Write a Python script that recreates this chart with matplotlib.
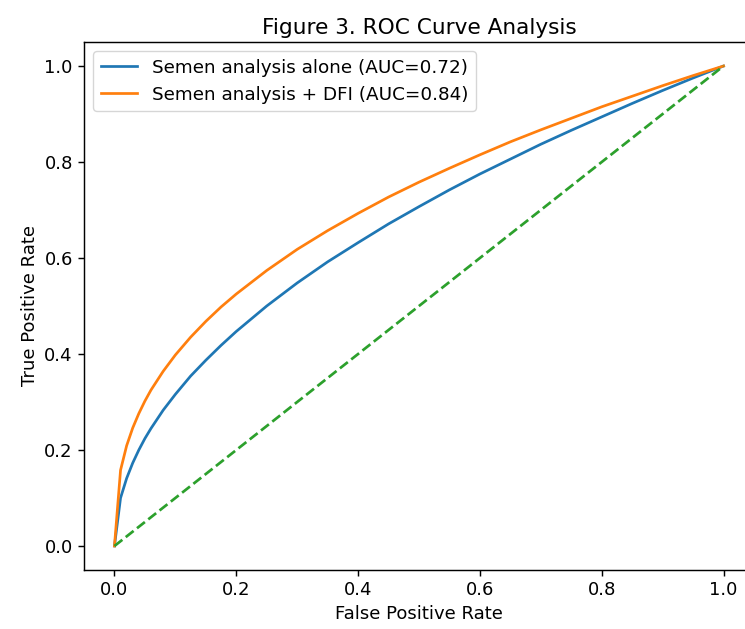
import matplotlib
matplotlib.use("Agg")
import matplotlib.pyplot as plt

# values
fpr = [0.0, 0.01, 0.02, 0.03, 0.04, 0.05, 0.06, 0.08, 0.1, 0.125, 0.15,
       0.175, 0.2, 0.25, 0.3, 0.35, 0.4, 0.45, 0.5, 0.55, 0.6, 0.65, 0.7,
       0.75, 0.8, 0.85, 0.9, 0.95, 1.0]
tpr_alone = [0.0, 0.100, 0.141, 0.173, 0.200, 0.224, 0.245, 0.283, 0.316,
             0.354, 0.387, 0.418, 0.447, 0.500, 0.548, 0.592, 0.632, 0.671,
             0.707, 0.742, 0.775, 0.806, 0.837, 0.866, 0.894, 0.922, 0.949,
             0.975, 1.0]
tpr_dfi = [0.0, 0.158, 0.209, 0.246, 0.276, 0.302, 0.325, 0.364, 0.398,
           0.435, 0.468, 0.498, 0.525, 0.574, 0.618, 0.657, 0.693, 0.727,
           0.758, 0.787, 0.815, 0.842, 0.867, 0.891, 0.915, 0.937, 0.959,
           0.980, 1.0]
diag = [0.0, 1.0]

labels = ["Semen analysis alone (AUC=0.72)", "Semen analysis + DFI (AUC=0.84)"]

s = 1.3
plt.rcParams["font.size"] = 10 * s

fig = plt.figure(figsize=(7.45, 6.29), dpi=100)
ax = fig.add_axes([84 / 745, 59 / 629, 670 / 745, 528 / 629])

ax.plot(fpr, tpr_alone, color="#1f77b4", lw=1.5 * s, label=labels[0])
ax.plot(fpr, tpr_dfi, color="#ff7f0e", lw=1.5 * s, label=labels[1])
ax.plot(diag, diag, color="#2ca02c", lw=1.5 * s, linestyle="--")

ax.set_xlim(-0.05, 1.05)
ax.set_ylim(-0.05, 1.05)
ax.set_xlabel("False Positive Rate")
ax.set_ylabel("True Positive Rate")
ax.set_title("Figure 3. ROC Curve Analysis", fontsize=12 * s)
ax.tick_params(width=0.8 * s, length=3.5 * s)
for spine in ax.spines.values():
    spine.set_linewidth(0.8 * s)
# the reference is cropped just before the right spine
ax.spines["right"].set_visible(False)
ax.legend(loc="upper left", fontsize=10.2 * s)

fig.savefig("out.png", dpi=100)
